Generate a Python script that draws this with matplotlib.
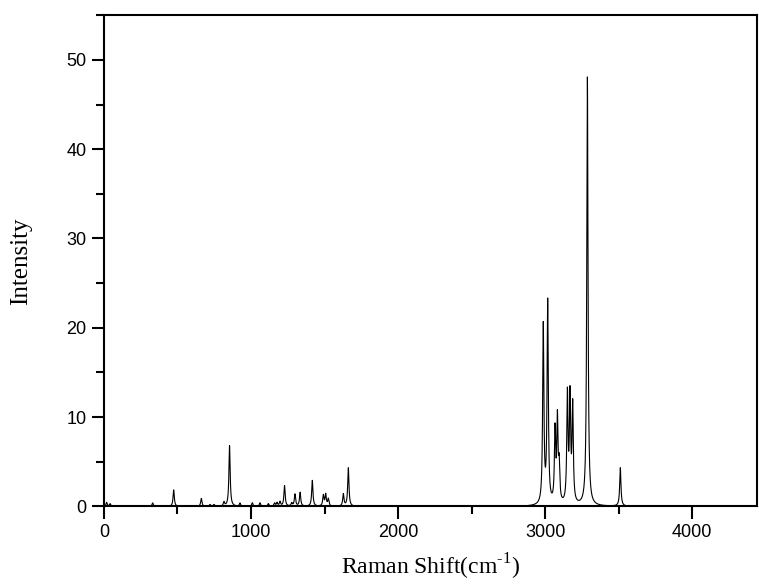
import numpy as np
import matplotlib
matplotlib.use("Agg")
import matplotlib.pyplot as plt
from matplotlib.ticker import MultipleLocator

plt.rcParams["mathtext.fontset"] = "custom"
plt.rcParams["mathtext.rm"] = "Liberation Serif"

centros = [18, 42, 331, 474, 662, 721, 748, 816, 854, 925, 1009, 1061, 1118,
           1160, 1177, 1197, 1228, 1277, 1299, 1334, 1417, 1492, 1508, 1526,
           1628, 1662, 2988, 3018, 3068, 3084, 3096, 3152, 3170, 3188, 3288, 3512]
alturas = [0.45, 0.3, 0.4, 1.85, 0.9, 0.2, 0.2, 0.45, 6.8, 0.35, 0.4, 0.4, 0.3,
           0.35, 0.4, 0.5, 2.3, 0.35, 1.35, 1.55, 2.9, 1.2, 1.3, 0.8,
           1.35, 4.3, 20.0, 22.6, 8.0, 9.2, 4.0, 12.1, 11.7, 10.8, 48.0, 4.3]
fwhm = 10.0  # ancho de los picos (Lorentziana)

x = np.linspace(0, 4450, 30000)
gamma = fwhm / 2
y = np.zeros_like(x)
for c, h in zip(centros, alturas):
    y += h / (1 + ((x - c) / gamma) ** 2)

fig = plt.figure(figsize=(7.59, 5.86), dpi=100)
ax = fig.add_axes([0.137, 0.1357, 0.861, 0.8384])
ax.plot(x, y, color="black", linewidth=0.8)

ax.set_xlim(0, 4445)
ax.set_ylim(0, 55)
ax.xaxis.set_major_locator(MultipleLocator(1000))
ax.xaxis.set_minor_locator(MultipleLocator(500))
ax.yaxis.set_major_locator(MultipleLocator(10))
ax.yaxis.set_minor_locator(MultipleLocator(5))

for s in ax.spines.values():
    s.set_linewidth(1.5)
ax.tick_params(which="major", direction="out", length=9, width=1.5,
               labelsize=13, top=False, right=False)
ax.tick_params(which="minor", direction="out", length=5.5, width=1.5,
               top=False, right=False)
for lab in ax.get_xticklabels() + ax.get_yticklabels():
    lab.set_fontfamily("Liberation Sans")

ax.set_xlabel(r"Raman Shift(cm$^{\text{-1}}$)", fontfamily="Liberation Serif",
              fontsize=17, labelpad=8)
ax.set_ylabel("Intensity", fontfamily="Liberation Serif", fontsize=18,
              labelpad=25)

fig.savefig("out.png", dpi=100)
